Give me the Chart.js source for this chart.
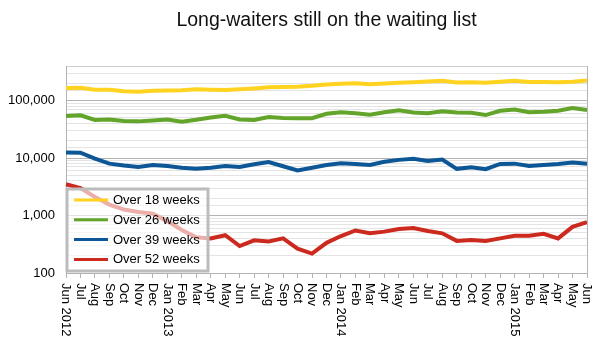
<!DOCTYPE html>
<html>
<head>
<meta charset="utf-8">
<script src="https://cdn.jsdelivr.net/npm/chart.js@4.4.0/dist/chart.umd.min.js"></script>
<style>
  html, body { margin: 0; padding: 0; background: #fff; }
  #wrap { width: 597px; height: 345px; }
</style>
</head>
<body>
<div id="wrap"><canvas id="waitChart" width="597" height="345"></canvas></div>
<script>
// monthly snapshots, Jun 2012 - Jun 2015
const months = [
  'Jun 2012', 'Jul', 'Aug', 'Sep', 'Oct', 'Nov', 'Dec',
  'Jan 2013', 'Feb', 'Mar', 'Apr', 'May', 'Jun', 'Jul', 'Aug', 'Sep', 'Oct', 'Nov', 'Dec',
  'Jan 2014', 'Feb', 'Mar', 'Apr', 'May', 'Jun', 'Jul', 'Aug', 'Sep', 'Oct', 'Nov', 'Dec',
  'Jan 2015', 'Feb', 'Mar', 'Apr', 'May', 'Jun'
];

const over18 = [
  165000, 168000, 154000, 155000, 146000, 142000, 148000, 150000, 152000, 157000,
  155000, 153000, 158000, 163000, 170000, 173000, 175000, 181000, 190000, 197000,
  201000, 193000, 198000, 204000, 209000, 215000, 222000, 206000, 208000, 205000,
  212000, 222000, 210000, 210000, 208000, 212000, 224000
];
const over26 = [
  54000, 55500, 46000, 47000, 44000, 43500, 45000, 47000, 43000, 46500,
  51000, 54500, 47000, 46000, 52000, 50000, 49500, 49500, 59000, 62500,
  60000, 57000, 62500, 68000, 62000, 60000, 65500, 62000, 61500, 56000,
  66500, 70000, 62500, 64000, 66500, 74000, 68500
];
const over39 = [
  12500, 12400, 9800, 8000, 7400, 7000, 7600, 7300, 6800, 6500,
  6800, 7300, 7000, 7800, 8500, 7200, 6100, 6800, 7600, 8100,
  7900, 7600, 8600, 9300, 9700, 8900, 9400, 6500, 6900, 6400,
  7900, 8000, 7300, 7600, 7900, 8400, 8000
];
const over52 = [
  3500, 3000, 2100, 1550, 1270, 1150, 1080, 800, 560, 420,
  400, 455, 295, 370, 355, 400, 265, 218, 335, 440,
  550, 490, 525, 585, 605, 540, 490, 362, 375, 360,
  400, 445, 445, 480, 400, 635, 770
];

const seriesNames = ['Over 18 weeks', 'Over 26 weeks', 'Over 39 weeks', 'Over 52 weeks'];
const seriesColors = ['#ffd320', '#62a52a', '#0d5797', '#cc2a1e'];
const majorTicks = [100, 1000, 10000, 100000];

const FONT = '"Liberation Sans", Arial, sans-serif';

const decorations = {
  id: 'decorations',
  afterDraw(chart) {
    const ctx = chart.ctx;
    const area = chart.chartArea;
    const xs = chart.scales.x;

    // right edge of the plot frame
    ctx.save();
    ctx.strokeStyle = '#b3b3b3';
    ctx.lineWidth = 1;
    ctx.beginPath();
    ctx.moveTo(area.right + 0.5, area.top);
    ctx.lineTo(area.right + 0.5, area.bottom);
    ctx.stroke();
    ctx.restore();

    // title
    ctx.save();
    ctx.fillStyle = '#111';
    ctx.font = '19.5px ' + FONT;
    ctx.textAlign = 'center';
    ctx.textBaseline = 'alphabetic';
    ctx.fillText('Long-waiters still on the waiting list', (area.left + area.right) / 2, 26);
    ctx.restore();

    // month labels, turned to read downwards
    ctx.save();
    ctx.fillStyle = '#000';
    ctx.font = '13px ' + FONT;
    ctx.textAlign = 'left';
    ctx.textBaseline = 'middle';
    months.forEach((m, i) => {
      const x = xs.getPixelForValue(i);
      ctx.save();
      ctx.translate(x, area.bottom + 10);
      ctx.rotate(Math.PI / 2);
      ctx.fillText(m, 0, 0);
      ctx.restore();
    });
    ctx.restore();

    // legend box inside the plot
    const bx = 67, by = 189, bw = 141, bh = 82;
    ctx.save();
    ctx.fillStyle = 'rgba(255,255,255,0.62)';
    ctx.fillRect(bx, by, bw, bh);
    ctx.strokeStyle = '#bcbcbc';
    ctx.lineWidth = 3;
    ctx.strokeRect(bx, by, bw, bh);
    ctx.font = '13px ' + FONT;
    ctx.textAlign = 'left';
    ctx.textBaseline = 'middle';
    chart.data.datasets.forEach((ds, i) => {
      const y = 200 + i * 19.8;
      ctx.strokeStyle = ds.borderColor;
      ctx.lineWidth = 3;
      ctx.beginPath();
      ctx.moveTo(74, y);
      ctx.lineTo(108, y);
      ctx.stroke();
      ctx.fillStyle = '#000';
      ctx.fillText(ds.label, 113, y + 0.5);
    });
    ctx.restore();
  }
};

new Chart(document.getElementById('waitChart'), {
  type: 'line',
  data: {
    labels: months,
    datasets: [over18, over26, over39, over52].map((vals, i) => ({
      label: seriesNames[i],
      data: vals,
      borderColor: seriesColors[i],
      backgroundColor: seriesColors[i],
      borderWidth: 4,
      pointRadius: 0,
      tension: 0,
      fill: false
    }))
  },
  options: {
    responsive: false,
    animation: false,
    devicePixelRatio: 1,
    layout: { padding: { top: 66, right: 10, left: 0, bottom: 0 } },
    plugins: {
      legend: { display: false },
      title: { display: false },
      tooltip: { enabled: false }
    },
    scales: {
      x: {
        type: 'category',
        offset: false,
        afterFit: s => { s.height = 72; },
        grid: {
          drawOnChartArea: false,
          drawTicks: true,
          tickLength: 5,
          color: '#b3b3b3'
        },
        border: { display: true, color: '#b3b3b3' },
        ticks: { display: false }
      },
      y: {
        type: 'logarithmic',
        min: 100,
        max: 400000,
        afterFit: s => { s.width = 66; },
        border: { display: true, color: '#b3b3b3' },
        grid: {
          drawTicks: false,
          color: c => {
            const v = c.tick && c.tick.value;
            if (majorTicks.includes(v)) return '#b3b3b3';
            if (v === 400000) return '#cfcfcf';
            return '#e4e4e4';
          }
        },
        ticks: {
          autoSkip: false,
          padding: 11,
          color: '#000',
          font: { family: FONT, size: 13 },
          callback: v => majorTicks.includes(v) ? v.toLocaleString('en-US') : ''
        }
      }
    }
  },
  plugins: [decorations]
});
</script>
</body>
</html>
